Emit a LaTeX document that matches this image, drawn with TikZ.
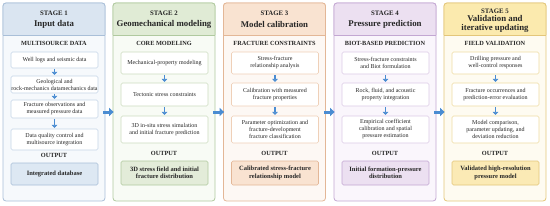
\documentclass[tikz,border=0pt]{standalone}
\usepackage{fontspec}
\setmainfont{Liberation Serif}
\usetikzlibrary{arrows.meta}
\definecolor{txt}{HTML}{262626}
\definecolor{arr}{HTML}{4A8CD2}
% stage 1 blue
\definecolor{aB}{HTML}{A9BFD8}\definecolor{aF}{HTML}{F6F9FC}\definecolor{aH}{HTML}{DAE5F1}\definecolor{aI}{HTML}{C5D5E8}\definecolor{aO}{HTML}{DDE8F3}
% stage 2 green
\definecolor{bB}{HTML}{B0C99F}\definecolor{bF}{HTML}{F8FBF5}\definecolor{bH}{HTML}{E0EBD5}\definecolor{bI}{HTML}{CDDCC0}\definecolor{bO}{HTML}{E3ECD9}
% stage 3 orange
\definecolor{cB}{HTML}{E3B797}\definecolor{cF}{HTML}{FDF8F4}\definecolor{cH}{HTML}{F9E3D1}\definecolor{cI}{HTML}{EFD0B8}\definecolor{cO}{HTML}{F9E3D1}
% stage 4 purple
\definecolor{dB}{HTML}{C3A7D2}\definecolor{dF}{HTML}{FAF6FC}\definecolor{dH}{HTML}{ECE0F1}\definecolor{dI}{HTML}{DCCBE6}\definecolor{dO}{HTML}{ECE0F1}
% stage 5 yellow
\definecolor{eB}{HTML}{E3C67A}\definecolor{eF}{HTML}{FEFBF1}\definecolor{eH}{HTML}{FBEAAE}\definecolor{eI}{HTML}{EFDCA3}\definecolor{eO}{HTML}{FBEAB5}
\tikzset{
  panel/.style 2 args={draw=#1, fill=#2, rounded corners=3pt, line width=0.8pt, minimum width=102pt, minimum height=198pt, inner sep=0pt},
  stg/.style={font=\fontsize{6.8}{8}\selectfont\bfseries, text=txt, inner sep=0pt},
  ttl/.style={font=\fontsize{8.8}{8.6}\selectfont\bfseries, text=txt, align=center, inner sep=0pt},
  lab/.style={font=\fontsize{6.3}{7}\selectfont\bfseries, text=txt, inner sep=0pt},
  ibox/.style={draw=#1, fill=white, rounded corners=1.5pt, line width=0.6pt, minimum width=87pt, align=center, inner sep=0pt, font=\fontsize{6}{7}\selectfont, text=txt},
  obox/.style 2 args={draw=#1, fill=#2, rounded corners=1.5pt, line width=0.7pt, minimum width=87pt, align=center, inner sep=0pt, font=\fontsize{6.5}{7.5}\selectfont\bfseries, text=txt},
  darr/.style={draw=arr, line width=1.8pt, -{Triangle[length=3pt,width=5.5pt]}, shorten <=1pt, shorten >=0.8pt},
  harr/.style={draw=arr, line width=3pt, -{Triangle[length=4.5pt,width=8pt]}}
}
\newcommand\headbox[4]{% x0, x1, fill, border
  \fill[#3, rounded corners=3pt] (#1,35) -- (#1,3) -- (#2,3) -- (#2,35);
  \draw[#4, line width=0.8pt, rounded corners=3pt] (#1,35) -- (#1,3) -- (#2,3) -- (#2,35);
  \draw[#4, line width=0.8pt] (#1,35) -- (#2,35);
}
\begin{document}
\begin{tikzpicture}[x=1pt, y=-1pt]
\useasboundingbox (0,0) rectangle (550,206);

% ---------- Stage 1 ----------
\node[panel={aB}{aF}] (p1) at (54,102) {};
\headbox{3}{105}{aH}{aB}
\node[stg] (s1) at (54,13) {STAGE 1};
\node[ttl] (t1) at (54,24.5) {Input data};
\node[lab] (l1) at (54,43) {MULTISOURCE DATA};
\node[ibox=aI, minimum height=16pt] (a1) at (54.5,60) {Well logs and seismic data};
\node[ibox=aI, minimum height=17pt] (a2) at (54.5,84.5) {Geological and\\rock-mechanics datamechanics data};
\node[ibox=aI, minimum height=18pt] (a3) at (54.5,109) {Fracture observations and\\measured pressure data};
\node[ibox=aI, minimum height=21pt] (a4) at (54.5,139.5) {Data quality control and\\multisource integration};
\node[lab] (o1) at (54,155.5) {OUTPUT};
\node[obox={aB}{aO}, minimum height=22pt] (ao) at (54.5,174) {Integrated database};
\draw[darr] (a1) -- (a2);
\draw[darr] (a2) -- (a3);
\draw[darr] (a3) -- (a4);

% ---------- Stage 2 ----------
\node[panel={bB}{bF}] (p2) at (164,102) {};
\headbox{113}{215}{bH}{bB}
\node[stg] (s2) at (164,13) {STAGE 2};
\node[ttl] (t2) at (164,24.5) {Geomechanical modeling};
\node[lab] (l2) at (164,43) {CORE MODELING};
\node[ibox=bI, minimum height=22pt] (b1) at (164.5,63) {Mechanical-property modeling};
\node[ibox=bI, minimum height=23pt] (b2) at (164.5,94.5) {Tectonic stress constraints};
\node[ibox=bI, minimum height=27pt] (b3) at (164.5,129.5) {3D in-situ stress simulation\\and initial fracture prediction};
\node[lab] (o2) at (164,153) {OUTPUT};
\node[obox={bB}{bO}, minimum height=24pt] (bo) at (164.5,173) {3D stress field and initial\\fracture distribution};
\draw[darr] (b1) -- (b2);
\draw[darr] (b2) -- (b3);

% ---------- Stage 3 ----------
\node[panel={cB}{cF}] (p3) at (274.5,102) {};
\headbox{223.5}{325.5}{cH}{cB}
\node[stg] (s3) at (274.5,13) {STAGE 3};
\node[ttl] (t3) at (274.5,24.5) {Model calibration};
\node[lab] (l3) at (274.5,43) {FRACTURE CONSTRAINTS};
\node[ibox=cI, minimum height=22pt] (c1) at (275,63) {Stress-fracture\\relationship analysis};
\node[ibox=cI, minimum height=23pt] (c2) at (275,94.5) {Calibration with measured\\fracture properties};
\node[ibox=cI, minimum height=27pt] (c3) at (275,129.5) {Parameter optimization and\\fracture-development\\fracture classification};
\node[lab] (o3) at (274.5,153) {OUTPUT};
\node[obox={cB}{cO}, minimum height=24pt] (co) at (275,173) {Calibrated stress-fracture\\relationship model};
\draw[darr] (c1) -- (c2);
\draw[darr] (c2) -- (c3);

% ---------- Stage 4 ----------
\node[panel={dB}{dF}] (p4) at (385,102) {};
\headbox{334}{436}{dH}{dB}
\node[stg] (s4) at (385,13) {STAGE 4};
\node[ttl] (t4) at (385,24.5) {Pressure prediction};
\node[lab] (l4) at (385,43) {BIOT-BASED PREDICTION};
\node[ibox=dI, minimum height=22pt] (d1) at (385.5,63) {Stress-fracture constraints\\and Biot formulation};
\node[ibox=dI, minimum height=23pt] (d2) at (385.5,94.5) {Rock, fluid, and acoustic\\property integration};
\node[ibox=dI, minimum height=27pt] (d3) at (385.5,129.5) {Empirical coefficient\\calibration and spatial\\pressure estimation};
\node[lab] (o4) at (385,153) {OUTPUT};
\node[obox={dB}{dO}, minimum height=24pt] (do) at (385.5,173) {Initial formation-pressure\\distribution};
\draw[darr] (d1) -- (d2);
\draw[darr] (d2) -- (d3);

% ---------- Stage 5 ----------
\node[panel={eB}{eF}] (p5) at (495,102) {};
\headbox{444}{546}{eH}{eB}
\node[stg] (s5) at (495,11.5) {STAGE 5};
\node[ttl] (t5) at (495,24) {Validation and\\iterative updating};
\node[lab] (l5) at (495,43) {FIELD VALIDATION};
\node[ibox=eI, minimum height=22pt] (e1) at (495.5,63) {Drilling pressure and\\well-control responses};
\node[ibox=eI, minimum height=23pt] (e2) at (495.5,94.5) {Fracture occurrences and\\prediction-error evaluation};
\node[ibox=eI, minimum height=27pt] (e3) at (495.5,129.5) {Model comparison,\\parameter updating, and\\deviation reduction};
\node[lab] (o5) at (495,153) {OUTPUT};
\node[obox={eB}{eO}, minimum height=24pt] (eo) at (495.5,173) {Validated high-resolution\\pressure model};
\draw[darr] (e1) -- (e2);
\draw[darr] (e2) -- (e3);

% ---------- stage-to-stage arrows ----------
\draw[harr] ([xshift=-2pt,yshift=-10pt]p1.east) -- ([xshift=1pt,yshift=-10pt]p2.west);
\draw[harr] ([xshift=-2pt,yshift=-10pt]p2.east) -- ([xshift=1pt,yshift=-10pt]p3.west);
\draw[harr] ([xshift=-2pt,yshift=-10pt]p3.east) -- ([xshift=1pt,yshift=-10pt]p4.west);
\draw[harr] ([xshift=-2pt,yshift=-10pt]p4.east) -- ([xshift=1pt,yshift=-10pt]p5.west);
\end{tikzpicture}
\end{document}
